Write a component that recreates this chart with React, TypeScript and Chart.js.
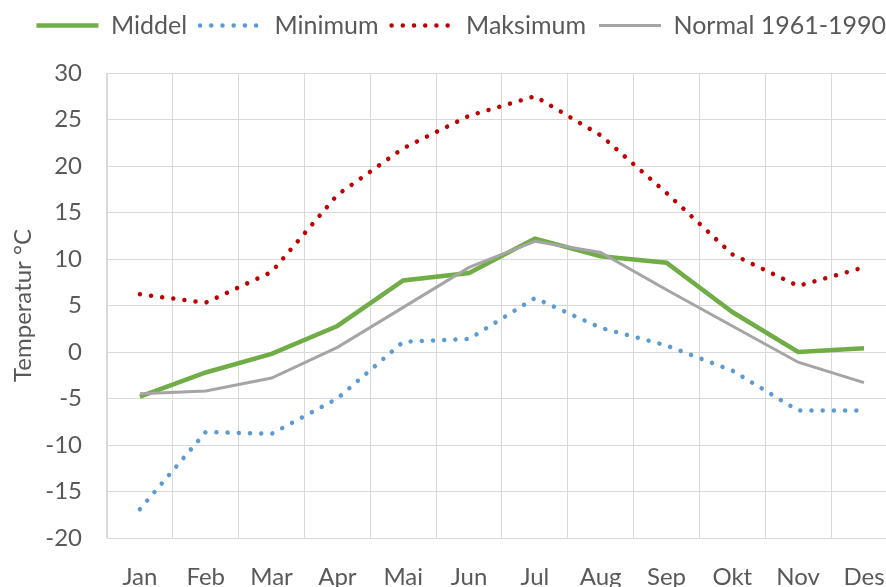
import React, { useEffect, useRef } from "react";
import { Chart, registerables } from "chart.js";

Chart.register(...registerables);

const months = ["Jan", "Feb", "Mar", "Apr", "Mai", "Jun", "Jul", "Aug", "Sep", "Okt", "Nov", "Des"];
const middel = [-4.8, -2.2, -0.2, 2.8, 7.7, 8.5, 12.2, 10.3, 9.6, 4.3, 0.0, 0.4];
const minimum = [-16.9, -8.6, -8.8, -5.0, 1.1, 1.4, 5.8, 2.6, 0.7, -2.0, -6.3, -6.3];
const maksimum = [6.2, 5.3, 8.6, 16.9, 21.9, 25.4, 27.5, 23.3, 17.1, 10.5, 7.1, 9.1];
const normal = [-4.5, -4.2, -2.8, 0.5, 4.8, 9.1, 11.9, 10.7, 6.7, 2.8, -1.1, -3.3];
const yTicks = { min: -20, max: 30, step: 5 };
const yTitle = "Temperatur °C";

const FONT = "Lato";
const TEXT = "#595959";
const GRID = "#D9D9D9";

export default function App() {
  const ref = useRef<HTMLCanvasElement>(null);
  useEffect(() => {
    if (!ref.current) return;
    const legendHeightPlugin = {
      id: "legendHeight",
      beforeUpdate(chart: any) {
        const lg = chart.legend;
        if (lg && !lg.__patched) {
          const orig = lg.fit.bind(lg);
          lg.fit = function () {
            orig();
            this.height = 73;
          };
          lg.__patched = true;
        }
      },
    };
    const chart = new Chart(ref.current, {
      type: "line",
      data: {
        labels: months,
        datasets: [
          {
            label: "Middel",
            data: middel,
            borderColor: "#70AD47",
            backgroundColor: "#70AD47",
            borderWidth: 4.5,
            pointRadius: 0,
            tension: 0,
            order: 4,
          },
          {
            label: "Minimum",
            data: minimum,
            borderColor: "#5B9BD5",
            backgroundColor: "#5B9BD5",
            borderWidth: 4.5,
            borderDash: [0.01, 11.2],
            borderCapStyle: "round",
            pointRadius: 0,
            tension: 0,
            order: 3,
          },
          {
            label: "Maksimum",
            data: maksimum,
            borderColor: "#C00000",
            backgroundColor: "#C00000",
            borderWidth: 4.5,
            borderDash: [0.01, 11.2],
            borderCapStyle: "round",
            pointRadius: 0,
            tension: 0,
            order: 2,
          },
          {
            label: "Normal 1961-1990",
            data: normal,
            borderColor: "#A5A5A5",
            backgroundColor: "#A5A5A5",
            borderWidth: 3,
            pointRadius: 0,
            tension: 0,
            order: 1,
          },
        ],
      },
      options: {
        responsive: false,
        animation: false,
        layout: { padding: { left: 0, right: 11, top: 0, bottom: 0 } },
        plugins: {
          tooltip: { enabled: false },
          legend: {
            position: "top",
            align: "end",
            labels: {
              usePointStyle: true,
              pointStyle: "line",
              pointStyleWidth: 62,
              padding: 13,
              color: TEXT,
              font: { family: FONT, size: 25 },
              sort: (a: any, b: any) => a.datasetIndex - b.datasetIndex,
              generateLabels: (chart: any) => {
                const items = Chart.defaults.plugins.legend.labels.generateLabels(chart);
                return items.map((it: any) => {
                  const ds = chart.data.datasets[it.datasetIndex];
                  return {
                    ...it,
                    lineDash: ds.borderDash || [],
                    lineCap: ds.borderCapStyle || "butt",
                    lineWidth: ds.borderWidth,
                    strokeStyle: ds.borderColor,
                    fillStyle: ds.borderColor,
                    pointStyle: "line",
                  };
                });
              },
            },
          },
        },
        scales: {
          x: {
            type: "category",
            offset: true,
            grid: { offset: true, color: GRID, lineWidth: 1, drawTicks: false },
            border: { color: GRID },
            ticks: { color: TEXT, font: { family: FONT, size: 24 }, padding: 25, maxRotation: 0 },
            afterFit: (s: any) => {
              s.height = 62;
            },
          },
          y: {
            min: yTicks.min,
            max: yTicks.max,
            grid: { color: GRID, lineWidth: 1, drawTicks: false },
            border: { color: GRID },
            ticks: { stepSize: yTicks.step, color: TEXT, font: { family: FONT, size: 24 }, padding: 25 },
            title: {
              display: true,
              text: yTitle,
              color: TEXT,
              font: { family: FONT, size: 24 },
              padding: { top: 9, bottom: 0 },
            },
            afterFit: (s: any) => {
              s.width = 107;
            },
          },
        },
      },
      plugins: [legendHeightPlugin],
    } as any);
    return () => chart.destroy();
  }, []);
  return (
    <div
      style={{
        position: "fixed",
        left: 0,
        top: 0,
        width: 886,
        height: 587,
        overflow: "hidden",
        background: "#fff",
      }}
    >
      <canvas ref={ref} width={910} height={600} style={{ display: "block" }} />
    </div>
  );
}
